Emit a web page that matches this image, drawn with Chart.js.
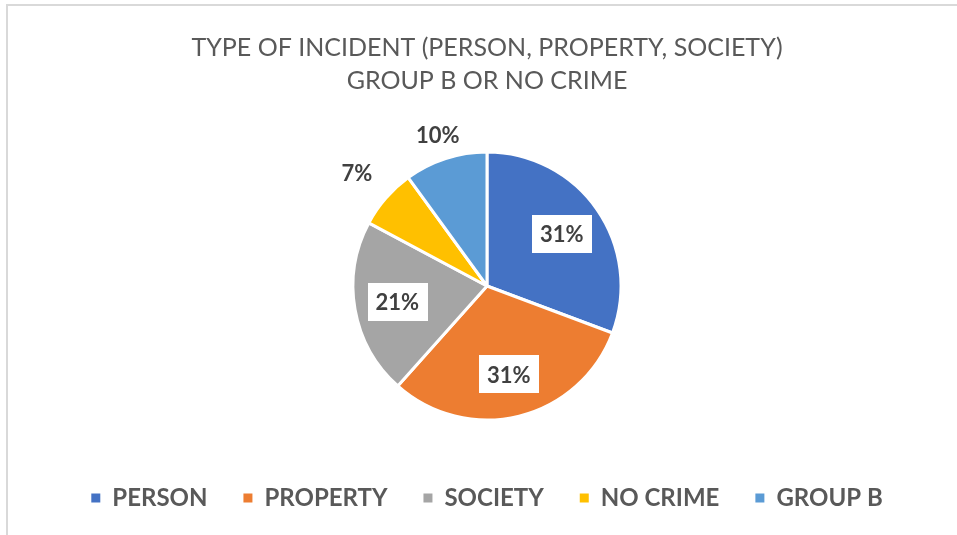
<!DOCTYPE html>
<html>
<head>
<meta charset="utf-8">
<title>Type of incident</title>
<script src="https://cdn.jsdelivr.net/npm/chart.js@4.4.0/dist/chart.umd.min.js"></script>
<style>
    html, body { margin: 0; padding: 0; background: #ffffff; overflow: hidden; }
    body { width: 957px; height: 535px; position: relative; }
    .frame {
        position: absolute; left: 6px; top: 4px; right: -10px; bottom: -10px;
        border-left: 2px solid #d9d9d9; border-top: 2px solid #d9d9d9;
    }
    .chart-box { position: absolute; left: 8px; top: 6px; width: 958px; height: 529px; }
</style>
</head>
<body>
<div class="frame"></div>
<div class="chart-box"><canvas id="incidentChart"></canvas></div>
<script>
// Chart data
const categories = ['PERSON', 'PROPERTY', 'SOCIETY', 'NO CRIME', 'GROUP B'];
const shares = [30.7, 30.9, 21.2, 7.2, 10.0];
const sliceColors = ['#4472C4', '#ED7D31', '#A5A5A5', '#FFC000', '#5B9BD5'];
const titleLines = ['TYPE OF INCIDENT (PERSON, PROPERTY, SOCIETY)', 'GROUP B OR NO CRIME'];

const FONT = 'Lato, "Open Sans", sans-serif';

// Excel style percent labels: boxed inside big slices, plain outside small ones
const percentLabels = {
    id: 'percentLabels',
    afterDatasetsDraw(chart) {
        const ctx = chart.ctx;
        const meta = chart.getDatasetMeta(0);
        const values = chart.data.datasets[0].data;
        const total = values.reduce((a, b) => a + b, 0);

        ctx.save();
        ctx.font = 'bold 22px ' + FONT;
        ctx.textAlign = 'center';
        ctx.textBaseline = 'middle';

        meta.data.forEach((arc, i) => {
            const p = arc.getProps(['x', 'y', 'startAngle', 'endAngle', 'outerRadius'], true);
            const mid = (p.startAngle + p.endAngle) / 2;
            const pct = values[i] / total * 100;
            const text = Math.round(pct) + '%';
            const inside = pct >= 15;
            // outside labels sit further out when they lie to the side of the pie
            const r = inside ? p.outerRadius * 0.68
                             : p.outerRadius + 16 + 30 * Math.abs(Math.cos(mid));
            const x = p.x + Math.cos(mid) * r;
            const y = p.y + Math.sin(mid) * r;

            if (inside) {
                const w = ctx.measureText(text).width + 16;
                ctx.fillStyle = '#ffffff';
                ctx.fillRect(Math.round(x - w / 2), Math.round(y - 19), Math.round(w), 38);
            }
            ctx.fillStyle = '#404040';
            ctx.fillText(text, x, y + 1);
        });
        ctx.restore();
    }
};

new Chart(document.getElementById('incidentChart'), {
    type: 'pie',
    data: {
        labels: categories,
        datasets: [{
            data: shares,
            backgroundColor: sliceColors,
            borderColor: '#ffffff',
            borderWidth: 3,
            radius: 134
        }]
    },
    options: {
        responsive: true,
        maintainAspectRatio: false,
        animation: false,
        layout: { padding: { top: 0, left: 0, right: 0, bottom: 15 } },
        plugins: {
            title: {
                display: true,
                text: titleLines,
                color: '#595959',
                font: { family: FONT, size: 25, weight: 'normal', lineHeight: '33px' },
                padding: { top: 25, bottom: 25 }
            },
            legend: {
                position: 'bottom',
                labels: {
                    color: '#595959',
                    font: { family: FONT, size: 24, weight: 'bold' },
                    boxWidth: 9,
                    boxHeight: 9,
                    padding: 36,
                    generateLabels(chart) {
                        const items = Chart.overrides.pie.plugins.legend.labels.generateLabels(chart);
                        items.forEach(item => { item.lineWidth = 0; });
                        return items;
                    }
                }
            },
            tooltip: { enabled: false }
        }
    },
    plugins: [percentLabels]
});
</script>
</body>
</html>
